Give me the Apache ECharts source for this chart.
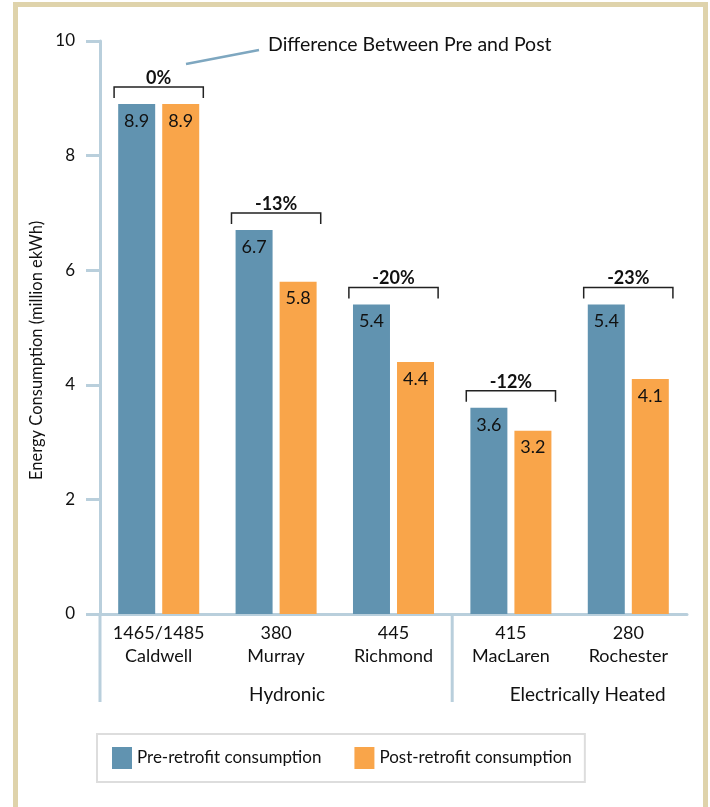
<!DOCTYPE html>
<html>
<head>
<meta charset="utf-8">
<script src="https://cdn.jsdelivr.net/npm/echarts@6/dist/echarts.min.js"></script>
<style>
  html, body { margin: 0; padding: 0; background: #fff; }
  #chart { width: 710px; height: 807px; }
</style>
</head>
<body>
<div id="chart"></div>
<script>
// dati del grafico
const categories = ['1465/1485\nCaldwell', '380\nMurray', '445\nRichmond', '415\nMacLaren', '280\nRochester'];
const preRetrofit = [8.9, 6.7, 5.4, 3.6, 5.4];
const postRetrofit = [8.9, 5.8, 4.4, 3.2, 4.1];
const differenceLabels = ['0%', '-13%', '-20%', '-12%', '-23%'];
const groupNames = ['Hydronic', 'Electrically Heated'];
const groupSizes = [3, 2];

const FONT = 'Lato, "Open Sans", sans-serif';
const AXIS_COLOR = '#b9cfdc';
const BLUE = '#6193b0';
const ORANGE = '#f9a54a';

const chart = echarts.init(document.getElementById('chart'));

// parentesi sopra ogni coppia di barre
function renderBracket(params, api) {
  const p = api.coord([api.value(0), api.value(1)]);
  const band = api.size([1, 0])[0];
  const half = band * 0.38;
  const top = p[1] - 17;
  return {
    type: 'group',
    children: [
      {
        type: 'polyline',
        shape: { points: [[p[0] - half, top + 11], [p[0] - half, top], [p[0] + half, top], [p[0] + half, top + 11]] },
        style: { stroke: '#222', lineWidth: 1.5, fill: null }
      },
      {
        type: 'text',
        x: p[0],
        y: top - 9,
        style: {
          text: differenceLabels[params.dataIndex],
          align: 'center',
          verticalAlign: 'middle',
          font: 'bold 18px ' + FONT,
          fill: '#111'
        }
      }
    ]
  };
}

const barLabel = { show: true, position: 'insideTop', distance: 8, fontSize: 18, color: '#111', fontFamily: FONT };

const option = {
  animation: false,
  textStyle: { fontFamily: FONT, color: '#111' },
  grid: { left: 100, right: 23, top: 41, bottom: 193 },
  legend: {
    left: 97,
    top: 734,
    padding: [13, 13, 13, 15],
    borderColor: '#dddddd',
    borderWidth: 2,
    itemWidth: 20,
    itemHeight: 22,
    itemGap: 33,
    icon: 'rect',
    textStyle: { fontSize: 17, color: '#111', fontFamily: FONT },
    data: ['Pre-retrofit consumption', 'Post-retrofit consumption']
  },
  xAxis: {
    type: 'category',
    data: categories,
    axisLine: { lineStyle: { color: AXIS_COLOR, width: 3 } },
    axisTick: { length: 13, lineStyle: { color: AXIS_COLOR, width: 3 } },
    axisLabel: { interval: 0, fontSize: 18, lineHeight: 23, margin: 8, color: '#111', fontFamily: FONT }
  },
  yAxis: {
    type: 'value',
    min: 0,
    max: 10,
    interval: 2,
    splitLine: { show: false },
    axisLine: { show: true, lineStyle: { color: AXIS_COLOR, width: 3 } },
    axisTick: { show: true, length: 14, lineStyle: { color: AXIS_COLOR, width: 3 } },
    axisLabel: { fontSize: 17, margin: 25, color: '#111', fontFamily: FONT }
  },
  series: [
    {
      name: 'Pre-retrofit consumption',
      type: 'bar',
      data: preRetrofit,
      barWidth: 37,
      barGap: '19%',
      itemStyle: { color: BLUE },
      label: barLabel
    },
    {
      name: 'Post-retrofit consumption',
      type: 'bar',
      data: postRetrofit,
      barWidth: 37,
      barGap: '19%',
      itemStyle: { color: ORANGE },
      label: barLabel
    },
    {
      type: 'custom',
      renderItem: renderBracket,
      clip: false,
      silent: true,
      data: categories.map((c, i) => [i, Math.max(preRetrofit[i], postRetrofit[i])])
    }
  ]
};

chart.setOption(option);

const y0 = chart.convertToPixel({ yAxisIndex: 0 }, 0);

// cornice, titolo asse, nota e divisori dei gruppi
const graphics = [
  {
    type: 'rect',
    shape: { x: 15.5, y: 4.5, width: 690, height: 840 },
    style: { fill: null, stroke: '#dfd3ab', lineWidth: 5 },
    silent: true
  },
  {
    type: 'text',
    x: 37,
    y: 480,
    rotation: Math.PI / 2,
    style: { text: 'Energy Consumption (million ekWh)', font: '16.5px ' + FONT, fill: '#111', align: 'left', verticalAlign: 'middle' }
  },
  {
    type: 'line',
    shape: { x1: 186, y1: 64, x2: 259, y2: 50 },
    style: { stroke: '#7ea7c0', lineWidth: 2.5 }
  },
  {
    type: 'text',
    x: 268,
    y: 45,
    style: { text: 'Difference Between Pre and Post', font: '19.5px ' + FONT, fill: '#111', verticalAlign: 'middle' }
  }
];

const step = chart.convertToPixel({ xAxisIndex: 0 }, categories[1]) - chart.convertToPixel({ xAxisIndex: 0 }, categories[0]);
const xStart = chart.convertToPixel({ xAxisIndex: 0 }, categories[0]) - step / 2;
let offset = 0;
const labelShift = [11, 18];
groupSizes.forEach((n, g) => {
  const left = xStart + offset * step;
  const right = left + n * step;
  graphics.push({
    type: 'line',
    shape: { x1: left, y1: y0, x2: left, y2: 702 },
    style: { stroke: AXIS_COLOR, lineWidth: 3 }
  });
  graphics.push({
    type: 'text',
    x: (left + right) / 2 + labelShift[g],
    y: 695,
    style: { text: groupNames[g], font: '19px ' + FONT, fill: '#111', align: 'center', verticalAlign: 'middle' }
  });
  offset += n;
});

chart.setOption({ graphic: graphics });
</script>
</body>
</html>
